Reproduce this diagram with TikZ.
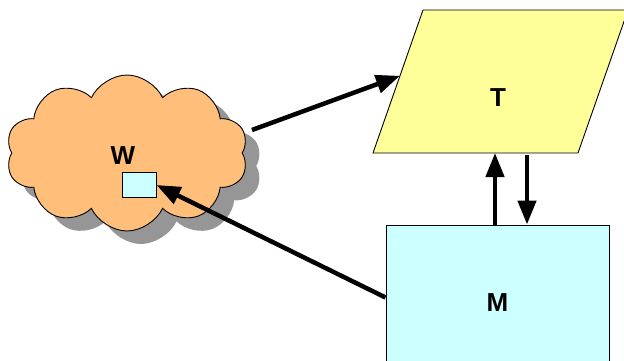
\documentclass[tikz,border=0pt]{standalone}
\usepackage{fontspec}
\setmainfont{Liberation Sans}
\usetikzlibrary{shapes.symbols,shadows,arrows.meta,calc}
\definecolor{cloudfill}{RGB}{255,190,122}
\definecolor{parafill}{RGB}{255,255,153}
\definecolor{boxfill}{RGB}{204,255,255}
\definecolor{shadowgray}{RGB}{150,150,150}
\begin{document}
\begin{tikzpicture}[x=1pt,y=-1pt,
  lbl/.style={font=\bfseries\fontsize{26}{28}\selectfont},
  conn/.style={line width=4.5pt,-{Triangle[length=24pt,width=18pt]}},
  outline/.style={draw=black,line width=0.9pt}]
\useasboundingbox (0,0) rectangle (624,360);
\clip (0,0) rectangle (624,360);
% cloud
\node[cloud, cloud puffs=10, cloud puff arc=130, cloud ignores aspect, outline,
  fill=cloudfill, minimum width=242pt, minimum height=156pt,
  drop shadow={shadow xshift=14pt, shadow yshift=-13pt, fill=shadowgray, opacity=1}]
  (W) at (127,153) {};
\node[lbl] (Wlbl) at (123,156) {W};
\node[outline, fill=boxfill, minimum width=34pt, minimum height=25pt, inner sep=0pt] (wbox) at (139,185) {};
% parallelogram T
\coordinate (tbl) at (373,153);
\coordinate (tbr) at (578,153);
\coordinate (ttr) at (628,10);
\coordinate (ttl) at (423,10);
\filldraw[outline, fill=parafill] (tbl) -- (tbr) -- (ttr) -- (ttl) -- cycle;
\node[lbl] (T) at (498,98) {T};
% box M
\node[outline, fill=boxfill, minimum width=223pt, minimum height=155pt, inner sep=0pt, lbl] (M) at (497.5,302.5) {M};
% connectors
\coordinate (cloudout) at (252,130);
\coordinate (tin) at ($(tbl)!0.54!(ttl)$);
\draw[conn] (cloudout) -- (tin);
\draw[conn] ($(M.west)+(0,-5)$) -- (wbox.east);
\draw[conn] (M.north -| 495,0) -- (tbl -| 495,0);
\draw[conn] (tbl -| 527,0) ++(0,2) -- (M.north -| 527,0);
\end{tikzpicture}
\end{document}
